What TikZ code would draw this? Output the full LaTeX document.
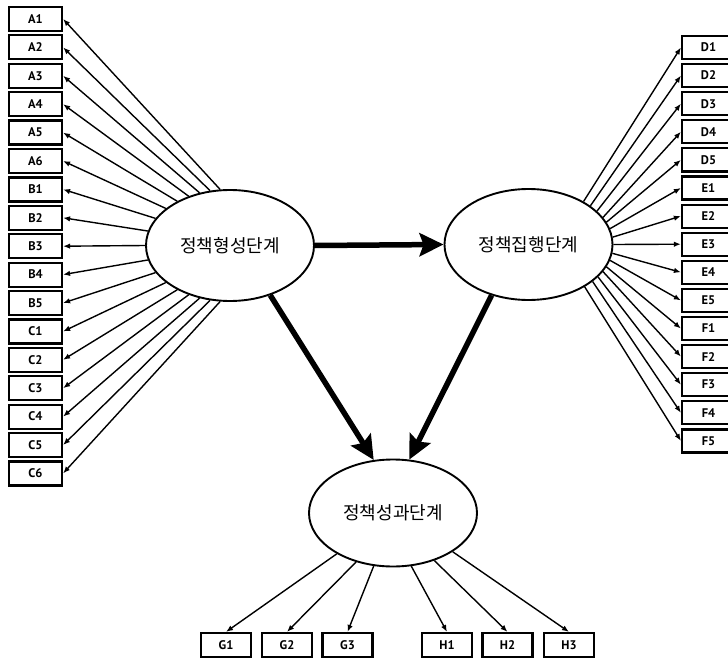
\documentclass[tikz,border=0pt]{standalone}
\usepackage{fontspec}
\setmainfont{PT Sans}
\newfontfamily\kr{Noto Sans CJK KR}
\usetikzlibrary{arrows.meta,shapes.geometric}
\begin{document}
\begin{tikzpicture}[x=1pt,y=-1pt,
  ind/.style={draw,line width=2.2pt,minimum width=53pt,minimum height=24pt,inner sep=0pt,font=\bfseries\fontsize{12.5}{12.5}\selectfont},
  lat/.style={draw,ellipse,line width=1.9pt,minimum width=168pt,minimum height=111pt,inner sep=0pt,font=\kr\fontsize{18}{18}\selectfont},
  thinarrow/.style={-{Latex[length=7pt,width=5.5pt]},line width=1.4pt},
  thickarrow/.style={-{Stealth[length=24pt,width=23pt,inset=4pt]},line width=5.5pt}]
\useasboundingbox (0,0) rectangle (728,658);
\fill[white] (0,0) rectangle (728,658);
\node[lat] (form) at (230,245.5) {정책형성단계};
\node[lat] (impl) at (528.5,244.5) {정책집행단계};
\node[lat,minimum height=107pt] (perf) at (393,513) {정책성과단계};
\foreach \t [count=\i from 0] in {A1,A2,A3,A4,A5,A6,B1,B2,B3,B4,B5,C1,C2,C3,C4,C5,C6}{
  \pgfmathtruncatemacro\ang{100+10*\i}
  \node[ind] (\t) at (35.5,{19+28.4*\i}) {\t};
  \draw[thinarrow] (form.\ang) -- (\t.east);
}
\foreach \t/\a [count=\i from 0] in {D1/38,D2/32,D3/26,D4/20,D5/16,E1/11,E2/5,E3/0,E4/354,E5/349,F1/344,F2/340,F3/335,F4/330,F5/323}{
  \node[ind,minimum height=23pt] (\t) at (708.5,{47.5+28.1*\i}) {\t};
  \draw[thinarrow] (impl.\a) -- (\t.west);
}
\foreach \t/\x/\a in {G1/226/216,G2/287/233,G3/347.5/250,H1/447/289,H2/507.5/311,H3/569/327}{
  \node[ind,minimum width=50pt] (\t) at (\x,645) {\t};
  \draw[thinarrow] (perf.\a) -- (\t.north);
}
\draw[thickarrow] (form.east) -- (impl.west);
\draw[thickarrow] (form.309) -- (perf.110);
\draw[thickarrow] (impl.234) -- (perf.73);
\end{tikzpicture}
\end{document}
